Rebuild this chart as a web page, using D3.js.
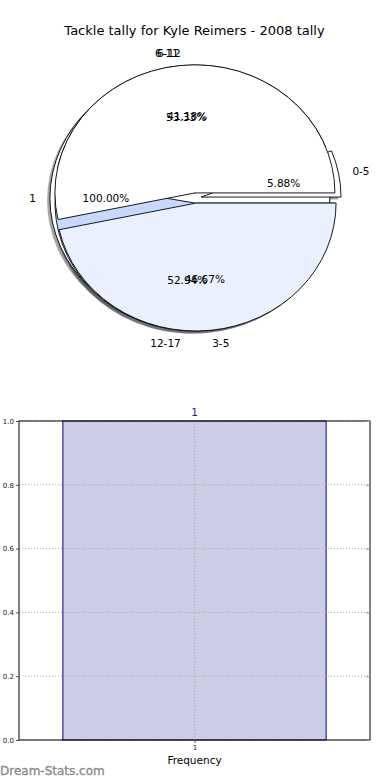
<!DOCTYPE html>
<html><head><meta charset="utf-8">
<script src="https://cdn.jsdelivr.net/npm/d3@7"></script>
<style>body{margin:0;background:#fff} text{font-family:"DejaVu Sans",sans-serif}</style>
</head><body><svg id="c" width="390" height="780"></svg>
<script>
const titleText = "Tackle tally for Kyle Reimers - 2008 tally";
const pieOneLabels = ["1"];
const pieOneValues = [1];
const pieTwoLabels = ["0-5", "6-12", "12-17"];
const pieTwoValues = [1, 7, 9];
const pieThreeLabels = ["6-11", "3-5"];
const pieThreeValues = [8, 7];
const sliceColors = ["#ffffff", "#eaf0fe", "#c6d9fc"];
const histCategories = ["1"];
const histValues = [1];
const histBinEdges = [0.625, 1.375];
const yTickValues = [0, 0.2, 0.4, 0.6, 0.8, 1.0];

(function () {
const svg = d3.select("#c");
svg.append("rect").attr("width", 390).attr("height", 780).attr("fill", "#fff");

svg.append("text").attr("x", 194.5).attr("y", 30).attr("text-anchor", "middle")
  .attr("dominant-baseline", "central").attr("font-size", 13).attr("fill", "#000").text(titleText);

// ---- overlaid pies ----
const cx = 195.5, cy = 198, rx = 140, ry = 128, explode = 0.04;
const pies = [
  {labels: pieOneLabels, values: pieOneValues},
  {labels: pieTwoLabels, values: pieTwoValues},
  {labels: pieThreeLabels, values: pieThreeValues}
];
const pieGen = d3.pie().sort(null).value(d => d.v).startAngle(Math.PI / 2).endAngle(Math.PI / 2 - 2 * Math.PI);
const arcGen = d3.arc().innerRadius(0).outerRadius(1);
const shadowLayer = svg.append("g");
const wedgeLayer = svg.append("g");
const textLayer = svg.append("g");
const fmt = d3.format(".2f");

pies.forEach(p => {
  const data = p.labels.map((l, i) => ({l, v: p.values[i], c: sliceColors[i % sliceColors.length]}));
  const total = d3.sum(p.values);
  const arcs = pieGen(data);
  arcs.forEach(a => {
    const mid = (a.startAngle + a.endAngle) / 2;
    const sx = Math.sin(mid), sy = -Math.cos(mid);
    const ox = cx + explode * rx * sx, oy = cy + explode * ry * sy;
    const col = d3.color(a.data.c);
    const shade = d3.rgb(col.r * 0.3, col.g * 0.3, col.b * 0.3);
    shadowLayer.append("path").attr("d", arcGen(a))
      .attr("transform", `translate(${ox - 0.02 * rx},${oy + 0.02 * ry}) scale(${rx},${ry})`)
      .attr("fill", shade).attr("fill-opacity", 0.5).attr("stroke", "none");
    wedgeLayer.append("path").attr("d", arcGen(a))
      .attr("transform", `translate(${ox},${oy}) scale(${rx},${ry})`)
      .attr("fill", a.data.c).attr("stroke", "#000").attr("stroke-width", 0.9)
      .attr("vector-effect", "non-scaling-stroke").attr("stroke-linejoin", "round");
    const lx = ox + 1.1 * rx * sx, ly = oy + 1.1 * ry * sy;
    textLayer.append("text").attr("x", lx).attr("y", ly)
      .attr("text-anchor", lx - cx > 0 ? "start" : "end").attr("dominant-baseline", "central")
      .attr("font-size", 10.5).attr("fill", "#000").text(a.data.l);
    textLayer.append("text").attr("x", ox + 0.6 * rx * sx).attr("y", oy + 0.6 * ry * sy)
      .attr("text-anchor", "middle").attr("dominant-baseline", "central")
      .attr("font-size", 10.5).attr("fill", "#000").text(fmt(a.data.v / total * 100) + "%");
  });
});

// ---- histogram ----
const pl = 19, pr = 370, pt = 421, pb = 740;
const x = d3.scaleLinear().domain([0.5, 1.5]).range([pl, pr]);
const y = d3.scaleLinear().domain([0, 1]).range([pb, pt]);
const h = svg.append("g");

h.append("rect").attr("x", x(histBinEdges[0])).attr("y", y(histValues[0]))
  .attr("width", x(histBinEdges[1]) - x(histBinEdges[0])).attr("height", y(0) - y(histValues[0]))
  .attr("fill", "#ccccE5").attr("stroke", "#00008b").attr("stroke-width", 1);

const grid = h.append("g").attr("stroke", "#a8a8a8").attr("stroke-width", 1).attr("stroke-dasharray", "1,2");
yTickValues.forEach(v => grid.append("line").attr("x1", pl).attr("x2", pr).attr("y1", y(v)).attr("y2", y(v)));
grid.append("line").attr("x1", x(1)).attr("x2", x(1)).attr("y1", pt).attr("y2", pb);

h.append("rect").attr("x", pl).attr("y", pt).attr("width", pr - pl).attr("height", pb - pt)
  .attr("fill", "none").attr("stroke", "#000").attr("stroke-width", 1);

const yAxis = d3.axisLeft(y).tickValues(yTickValues).tickFormat(d3.format(".1f")).tickSize(3).tickPadding(2);
const ya = h.append("g").attr("transform", `translate(${pl},0)`).call(yAxis);
ya.select(".domain").remove();
ya.selectAll("text").attr("font-size", 7).attr("font-family", "DejaVu Sans").attr("fill", "#222");
ya.selectAll("line").attr("stroke", "#555");

const yAxisR = d3.axisLeft(y).tickValues(yTickValues).tickFormat("").tickSize(4);
const yr = h.append("g").attr("transform", `translate(${pr},0)`).call(yAxisR);
yr.select(".domain").remove();
yr.selectAll("line").attr("stroke", "#999");

const xAxis = d3.axisBottom(x).tickValues([1]).tickFormat(() => histCategories[0]).tickSize(3).tickPadding(2);
const xa = h.append("g").attr("transform", `translate(0,${pb})`).call(xAxis);
xa.select(".domain").remove();
xa.selectAll("text").attr("font-size", 7).attr("font-family", "DejaVu Sans").attr("fill", "#222");
xa.selectAll("line").attr("stroke", "#555");

h.append("text").attr("x", x(1)).attr("y", 412).attr("text-anchor", "middle").attr("dominant-baseline", "central")
  .attr("font-size", 10.5).attr("fill", "#1a1aa0").text(histCategories[0]);

h.append("text").attr("x", x(1)).attr("y", 760).attr("text-anchor", "middle").attr("dominant-baseline", "central")
  .attr("font-size", 10.5).attr("fill", "#000").text("Frequency");

svg.append("text").attr("x", 0).attr("y", 771).attr("dominant-baseline", "central")
  .attr("font-size", 12).attr("fill", "#8c8c8c").attr("stroke", "#8c8c8c").attr("stroke-width", 0.35)
  .text("Dream-Stats.com");
})();
</script></body></html>
